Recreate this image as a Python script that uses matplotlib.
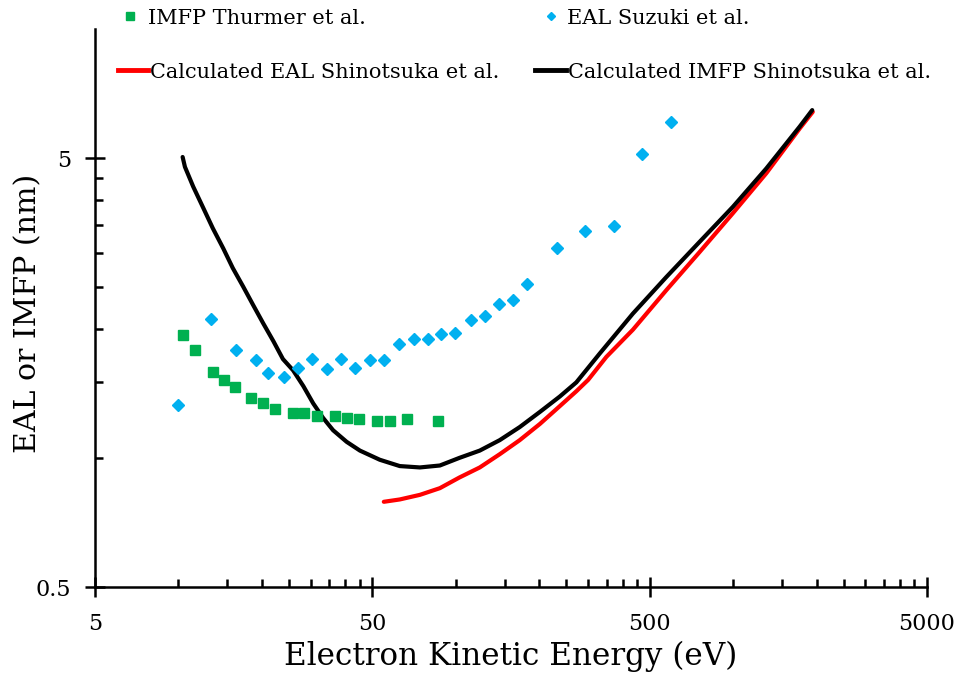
import numpy as np
import matplotlib
matplotlib.use("Agg")
import matplotlib.pyplot as plt
from matplotlib.ticker import FixedLocator, NullFormatter, FixedFormatter
from matplotlib.lines import Line2D

# ---------------- data ----------------
thurmer_E = [10.4, 11.5, 13.3, 14.6, 16.0, 18.3, 20.2, 22.3, 25.9, 28.4, 31.5,
             36.6, 40.6, 44.7, 52.1, 57.7, 66.8, 85.9]
thurmer_imfp = [1.93, 1.78, 1.59, 1.52, 1.46, 1.38, 1.34, 1.30, 1.27, 1.27, 1.25,
                1.25, 1.24, 1.23, 1.22, 1.22, 1.23, 1.22]

suzuki_E = [10.0, 13.1, 16.1, 19.0, 21.0, 24.0, 26.9, 30.2, 34.4, 38.4, 43.2,
            48.9, 55.0, 62.3, 70.7, 79.6, 88.6, 99.4, 113, 127, 143, 161, 181,
            231, 292, 372, 470, 599]
suzuki_eal = [1.33, 2.11, 1.78, 1.69, 1.58, 1.54, 1.62, 1.70, 1.61, 1.70, 1.62,
              1.69, 1.69, 1.84, 1.89, 1.89, 1.94, 1.95, 2.10, 2.14, 2.28, 2.33,
              2.54, 3.08, 3.38, 3.48, 5.11, 6.07]

shin_imfp_E = [10.35, 10.55, 11.3, 12.3, 13.3, 14.5, 15.7, 17.1, 18.6, 20.2, 22.0,
               23.8, 25.9, 28.2, 30.6, 33.2, 36.1, 40.4, 45.1, 53.2, 62.8, 74.2,
               87.6, 103, 122, 144, 170, 201, 237, 272, 330, 435, 574, 757, 998,
               1317, 1737, 1928]
shin_imfp = [5.03, 4.77, 4.29, 3.82, 3.43, 3.08, 2.77, 2.51, 2.27, 2.06, 1.87,
             1.70, 1.60, 1.47, 1.34, 1.24, 1.16, 1.09, 1.04, 0.99, 0.957, 0.95,
             0.96, 1.00, 1.04, 1.10, 1.18, 1.28, 1.39, 1.50, 1.75, 2.17, 2.64,
             3.19, 3.85, 4.73, 5.92, 6.47]

shin_eal_E = [55.0, 62.8, 74.2, 87.6, 103, 122, 144, 170, 201, 237, 272, 300, 349,
              435, 574, 757, 998, 1317, 1737, 1937]
shin_eal = [0.79, 0.80, 0.82, 0.85, 0.90, 0.95, 1.02, 1.10, 1.20, 1.32, 1.43,
            1.52, 1.72, 1.99, 2.46, 3.02, 3.72, 4.61, 5.86, 6.41]

x_major = [5, 50, 500, 5000]
x_major_labels = ["5", "50", "500", "5000"]
y_major = [0.5, 5]
y_major_labels = ["0.5", "5"]

labels = ["IMFP Thurmer et al.", "EAL Suzuki et al.",
          "Calculated EAL Shinotsuka et al.", "Calculated IMFP Shinotsuka et al."]

GREEN = "#00B050"
BLUE = "#00B0F0"
RED = "#FF0000"
BLACK = "#000000"

FONT = "DejaVu Serif"
plt.rcParams["font.family"] = FONT

W, H = 956, 674
fig = plt.figure(figsize=(W / 100, H / 100), dpi=100)
AX_L, AX_R, AX_B, AX_T = 95, 927, 587, 29
ax = fig.add_axes([AX_L / W, 1 - AX_B / H, (AX_R - AX_L) / W, (AX_B - AX_T) / H])

ax.plot(shin_eal_E, shin_eal, color=RED, lw=3.0, solid_capstyle="round",
        solid_joinstyle="round", zorder=3)
ax.plot(shin_imfp_E, shin_imfp, color=BLACK, lw=3.0, solid_capstyle="round",
        solid_joinstyle="round", zorder=4)
ax.plot(thurmer_E, thurmer_imfp, ls="none", marker="s", ms=7.6, color=GREEN, zorder=5)
ax.plot(suzuki_E, suzuki_eal, ls="none", marker="D", ms=5.8, color=BLUE, zorder=5)

ax.set_xscale("log")
ax.set_yscale("log")
ax.set_xlim(5, 5000)
ax.set_ylim(0.5, 10)

ax.xaxis.set_major_locator(FixedLocator(x_major))
ax.xaxis.set_major_formatter(FixedFormatter(x_major_labels))
xminor = [m * k for m in (5, 50, 500) for k in range(2, 10)]
ax.xaxis.set_minor_locator(FixedLocator(xminor))
ax.xaxis.set_minor_formatter(NullFormatter())

ax.yaxis.set_major_locator(FixedLocator(y_major))
ax.yaxis.set_major_formatter(FixedFormatter(y_major_labels))
yminor = [0.5 * k for k in range(2, 10)]
ax.yaxis.set_minor_locator(FixedLocator(yminor))
ax.yaxis.set_minor_formatter(NullFormatter())

for s in ("top", "right"):
    ax.spines[s].set_visible(False)
for s in ("left", "bottom"):
    ax.spines[s].set_linewidth(1.8)

ax.tick_params(which="major", direction="inout", length=14, width=1.8,
               labelsize=16)
ax.tick_params(axis="x", which="major", pad=12)
ax.tick_params(axis="y", which="major", pad=10)
ax.tick_params(which="minor", direction="in", length=6, width=1.8)

ax.set_xlabel("Electron Kinetic Energy (eV)", fontsize=22.3, va="center")
ax.xaxis.set_label_coords(0.5, -(656 - AX_B) / (AX_B - AX_T))
ax.set_ylabel("EAL or IMFP (nm)", fontsize=21.6, va="center")
ax.yaxis.set_label_coords(-(AX_L - 28) / (AX_R - AX_L), (AX_B - 313) / (AX_B - AX_T))

# legend entries placed individually (Excel-like layout)
handles = [
    Line2D([], [], ls="none", marker="s", ms=6, color=GREEN),
    Line2D([], [], ls="none", marker="D", ms=4.5, color=BLUE),
    Line2D([], [], color=RED, lw=3.5),
    Line2D([], [], color=BLACK, lw=3.5),
]
positions = [(124, 18), (545, 18), (118, 72), (535, 72)]
hlens = [0.6, 0.6, 1.44, 1.5]
pads = [0.55, 0.45, 0.1, 0.1]
for h, lab, (px, py), hl, pd in zip(handles, labels, positions, hlens, pads):
    fig.legend([h], [lab], loc="center left", bbox_to_anchor=(px / W, 1 - py / H),
               frameon=False, fontsize=15, handlelength=hl, handletextpad=pd,
               borderpad=0, borderaxespad=0)

fig.savefig("out.png", dpi=100)
